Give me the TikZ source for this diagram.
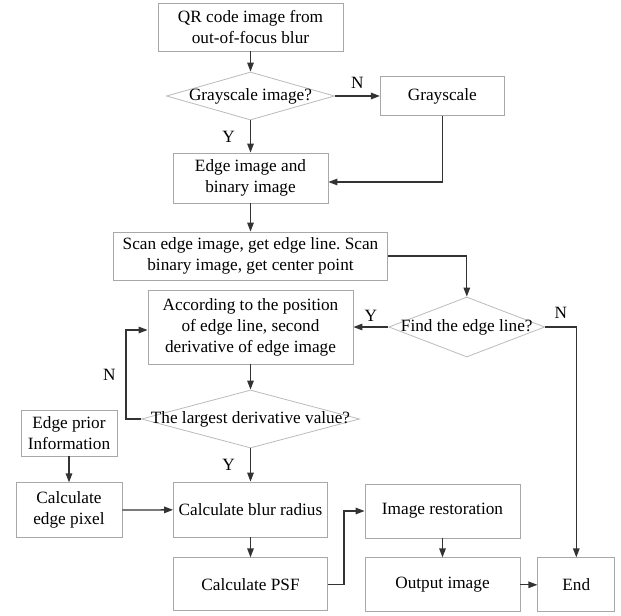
\documentclass[tikz,border=0pt]{standalone}
\usepackage{fontspec}
\setmainfont{Liberation Serif}
\usepackage{tikz}
\usetikzlibrary{positioning, shapes.geometric, arrows.meta}
\definecolor{boxGray}{HTML}{A8A8A8}
\definecolor{diaGray}{HTML}{BBBBBB}
\definecolor{lineGray}{HTML}{333333}
\newcommand{\inDia}[1]{\makebox[0pt]{#1}}
\frenchspacing

\begin{document}
\begin{tikzpicture}[
  x=1bp, y=-1bp,
  font=\fontsize{17.3}{21}\selectfont,
  procbox/.style={draw=boxGray, line width=0.8bp, inner sep=2bp, align=center},
  decision/.style={diamond, draw=diaGray, line width=0.8bp, inner sep=0pt},
  link/.style={-{Stealth[length=9pt, width=6.5pt, inset=0pt]}, draw=lineGray, line width=1.3bp},
  tag/.style={inner sep=3bp}
]
\useasboundingbox (0,0) rectangle (621,616);

\node[procbox, minimum width=185bp, minimum height=48bp] (qrimg) at (250.5,27)
{QR code image from\\
out-of-focus blur};

\node[decision, minimum width=168bp, minimum height=48bp] (isgray) at (250.5,96)
{\inDia{Grayscale image?}};

\node[procbox, minimum width=124bp, minimum height=39bp, right=45bp of isgray] (gray)
{Grayscale};

\node[procbox, minimum width=155bp, minimum height=50bp] (edgebin) at (250.5,178)
{Edge image and\\
binary image};

\node[procbox, minimum width=274bp, minimum height=48bp] (scan) at (250.5,256)
{Scan edge image, get edge line. Scan\\
binary image, get center point};

\node[procbox, minimum width=205bp, minimum height=74bp] (second) at (250.5,327)
{According to the position\\
of edge line, second\\
derivative of edge image};

\node[decision, minimum width=156bp, minimum height=60bp, right=35bp of second] (findline)
{\inDia{Find the edge line?}};

\node[decision, minimum width=218bp, minimum height=58bp] (largest) at (250.5,419)
{\inDia{The largest derivative value?}};

\node[procbox, minimum width=96bp, minimum height=46bp] (prior) at (69,433)
{Edge prior\\
Information};

\node[procbox, minimum width=106bp, minimum height=55bp, below=26bp of prior] (edgepix)
{Calculate\\
edge pixel};

\node[procbox, minimum width=154bp, minimum height=55bp] (blur) at (250.5,509.5)
{Calculate blur radius};

\node[procbox, minimum width=154bp, minimum height=53bp, below=20bp of blur] (psf)
{Calculate PSF};

\node[procbox, minimum width=155bp, minimum height=54bp] (restore) at (442.5,511)
{Image restoration};

\node[procbox, minimum width=155bp, minimum height=54bp, below=19bp of restore] (output)
{Output image};

\node[procbox, minimum width=77bp, minimum height=54bp, right=17bp of output] (endbox)
{End};

\draw[link] (qrimg) -- (isgray);
\draw[link] (isgray) -- node[tag, above=3.5bp] {N} (gray);
\draw[link] (isgray) -- node[tag, left=12bp] {Y} (edgebin);
\draw[link] (gray.south) |- ([yshift=-4bp]edgebin.east);
\draw[link] (edgebin) -- (scan);
\draw[link] (scan.east) -| (findline.north);
\draw[link] (findline) -- node[tag, above=1.5bp] {Y} (second);
\draw[link] (findline.east) -| node[tag, pos=0.25, above=5bp] {N} (endbox.north);
\draw[link] (second) -- (largest);
\draw[link] (largest.west) -- ++(-15,0) |- node[tag, pos=0.25, left=7bp] {N} ([yshift=-3bp]second.west);
\draw[link] (largest) -- node[tag, left=12bp] {Y} (blur);
\draw[link] (prior) -- (edgepix);
\draw[link] (edgepix) -- (blur);
\draw[link] (blur) -- (psf);
\draw[link] (psf.east) -- ++(16,0) |- (restore.west);
\draw[link] (restore) -- (output);
\draw[link] (output) -- (endbox);

\end{tikzpicture}
\end{document}
